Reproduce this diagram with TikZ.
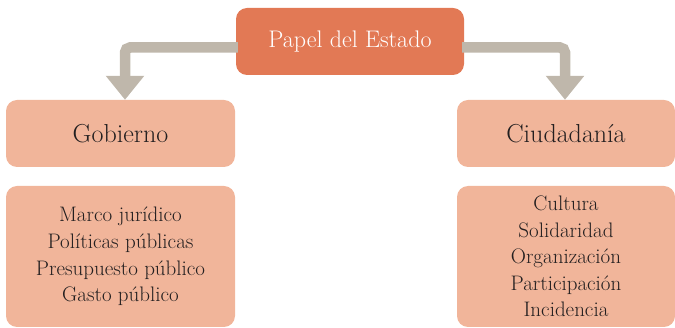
\documentclass[tikz,border=0pt]{standalone}
\usetikzlibrary{arrows.meta}
\definecolor{topfill}{HTML}{E27955}
\definecolor{boxfill}{HTML}{F1B59A}
\definecolor{arrowgray}{HTML}{BFB7AB}
\definecolor{textdark}{HTML}{231F20}
\tikzset{
  topbox/.style={fill=topfill, rounded corners=11pt, minimum width=228pt, minimum height=67pt, inner sep=0pt, text=white, font=\fontsize{24}{28}\selectfont},
  headbox/.style={fill=boxfill, rounded corners=11pt, minimum height=67pt, inner sep=0pt, text=textdark, font=\fontsize{26}{30}\selectfont},
  listbox/.style={fill=boxfill, rounded corners=11pt, minimum height=141pt, inner sep=0pt, text=textdark, align=center, font=\fontsize{21}{26.6}\selectfont},
  conn/.style={draw=arrowgray, line width=10.5pt, rounded corners=5pt, -{Triangle[width=37pt,length=24pt,fill=arrowgray]}}
}
\begin{document}
\begin{tikzpicture}[x=1pt,y=1pt]
\useasboundingbox (0,0) rectangle (675,-328);
\node[topbox] (top) at (350,-41.5) {Papel del Estado};
\node[headbox, minimum width=229pt] (gob) at (120.5,-133.5) {Gobierno};
\node[headbox, minimum width=218pt] (ciu) at (566,-133.5) {Ciudadanía};
\node[listbox, minimum width=229pt] (gobl) at (120.5,-256.5) {Marco jurídico\\Políticas públicas\\Presupuesto público\\Gasto público};
\node[listbox, minimum width=218pt] (ciul) at (566,-256.5) {Cultura\\Solidaridad\\Organización\\Participación\\Incidencia};
\draw[conn] ([yshift=-6pt,xshift=2pt]top.west) -| ([xshift=4.5pt]gob.north);
\draw[conn] ([yshift=-6pt,xshift=-2pt]top.east) -| ([xshift=-1pt]ciu.north);
\end{tikzpicture}
\end{document}
